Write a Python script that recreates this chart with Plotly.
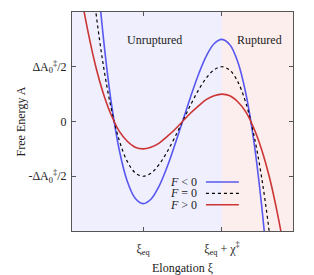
import plotly.graph_objects as go

# Elongation positions (xi_eq = 1, xi_eq + chi = 2), free energy in units of dA0/2
xi = [0.1, 0.2, 0.3, 0.4, 0.5, 0.6, 0.7, 0.8, 0.9, 1.0, 1.1, 1.2, 1.3, 1.4, 1.5,
      1.6, 1.7, 1.8, 1.9, 2.0, 2.1, 2.2, 2.3, 2.4, 2.5, 2.6, 2.7, 2.8, 2.9]
A_neg = [10.16, 7.33, 4.97, 3.04, 1.5, 0.32, -0.53, -1.09, -1.40, -1.5, -1.42, -1.19, -0.85, -0.44, 0.0,
         0.44, 0.85, 1.19, 1.42, 1.5, 1.40, 1.09, 0.53, -0.32, -1.5, -3.04, -4.97, -7.33, -10.16]
A_zero = [6.776, 4.888, 3.312, 2.024, 1.0, 0.216, -0.352, -0.728, -0.936, -1.0, -0.944, -0.792, -0.568, -0.296, 0.0,
          0.296, 0.568, 0.792, 0.944, 1.0, 0.936, 0.728, 0.352, -0.216, -1.0, -2.024, -3.312, -4.888, -6.776]
A_pos = [3.39, 2.44, 1.66, 1.01, 0.5, 0.11, -0.18, -0.36, -0.47, -0.5, -0.47, -0.40, -0.28, -0.15, 0.0,
         0.15, 0.28, 0.40, 0.47, 0.5, 0.47, 0.36, 0.18, -0.11, -0.5, -1.01, -1.66, -2.44, -3.39]

x_range = [0.1, 2.9]
y_range = [-2, 2]
x_boundary = 2.0
x_tickvals = [1, 2]
x_ticktext = ["ξ<sub>eq</sub>", "ξ<sub>eq</sub> + χ<sup>‡</sup>"]
y_tickvals = [-1, 0, 1]
y_ticktext = ["-ΔA<sub>0</sub><sup>‡</sup>/2", "0", "ΔA<sub>0</sub><sup>‡</sup>/2"]
legend_labels = ["<i>F</i> < 0", "<i>F</i> = 0", "<i>F</i> > 0"]

BLUE = "#5858f0"
RED = "#cc3535"
TXT = "#222"
FONT = "Liberation Serif"
DASH = "3px,3px"

fig = go.Figure()
fig.add_trace(go.Scatter(x=xi, y=A_neg, mode="lines", line=dict(color=BLUE, width=1.6, shape="spline"),
                         showlegend=False))
fig.add_trace(go.Scatter(x=xi, y=A_zero, mode="lines", line=dict(color="black", width=1.2, dash=DASH, shape="spline"),
                         showlegend=False))
fig.add_trace(go.Scatter(x=xi, y=A_pos, mode="lines", line=dict(color=RED, width=1.6, shape="spline"),
                         showlegend=False))

# shaded regions
fig.add_shape(type="rect", xref="x", yref="y", x0=x_range[0], x1=x_boundary, y0=y_range[0], y1=y_range[1],
              fillcolor="#efeffd", line_width=0, layer="below")
fig.add_shape(type="rect", xref="x", yref="y", x0=x_boundary, x1=x_range[1], y0=y_range[0], y1=y_range[1],
              fillcolor="#fdeeee", line_width=0, layer="below")

fig.add_annotation(x=0.375, y=0.87, xref="paper", yref="paper", text="Unruptured", showarrow=False,
                   xanchor="center", yanchor="middle", font=dict(family=FONT, size=12, color=TXT))
fig.add_annotation(x=0.85, y=0.87, xref="paper", yref="paper", text="Ruptured", showarrow=False,
                   xanchor="center", yanchor="middle", font=dict(family=FONT, size=12, color=TXT))

# legend (text right-aligned, line sample after it)
colors = [BLUE, "black", RED]
dashes = ["solid", DASH, "solid"]
for i, (lab, c, d) in enumerate(zip(legend_labels, colors, dashes)):
    yy = 0.224 - i * 0.052
    fig.add_annotation(x=0.575, y=yy, xref="paper", yref="paper", text=lab, showarrow=False,
                       xanchor="right", yanchor="middle", font=dict(family=FONT, size=12, color=TXT))
    fig.add_shape(type="line", xref="paper", yref="paper", x0=0.606, x1=0.755, y0=yy, y1=yy,
                  line=dict(color=c, width=1.6 if d == "solid" else 1.2, dash=d))

axis_common = dict(showline=True, linecolor="#555", linewidth=1.2, mirror="ticks", ticks="inside",
                   ticklen=4, tickcolor="#555", showgrid=False, zeroline=False,
                   tickfont=dict(family=FONT, size=12, color=TXT))
fig.update_xaxes(range=x_range, tickvals=x_tickvals, ticktext=x_ticktext, ticklabelstandoff=6,
                 title=dict(text="Elongation ξ", font=dict(family=FONT, size=12, color=TXT), standoff=7),
                 **axis_common)
fig.update_yaxes(range=y_range, tickvals=y_tickvals, ticktext=y_ticktext, ticklabelstandoff=2,
                 title=dict(text="Free Energy A", font=dict(family=FONT, size=12, color=TXT), standoff=0),
                 **axis_common)

# page body has an 8px margin: size and margins compensate so the plot area lands as in the reference
fig.update_layout(width=306, height=267, margin=dict(l=64, r=21, t=3, b=38),
                  paper_bgcolor="white", plot_bgcolor="white", showlegend=False)
fig.write_html("out.html")
